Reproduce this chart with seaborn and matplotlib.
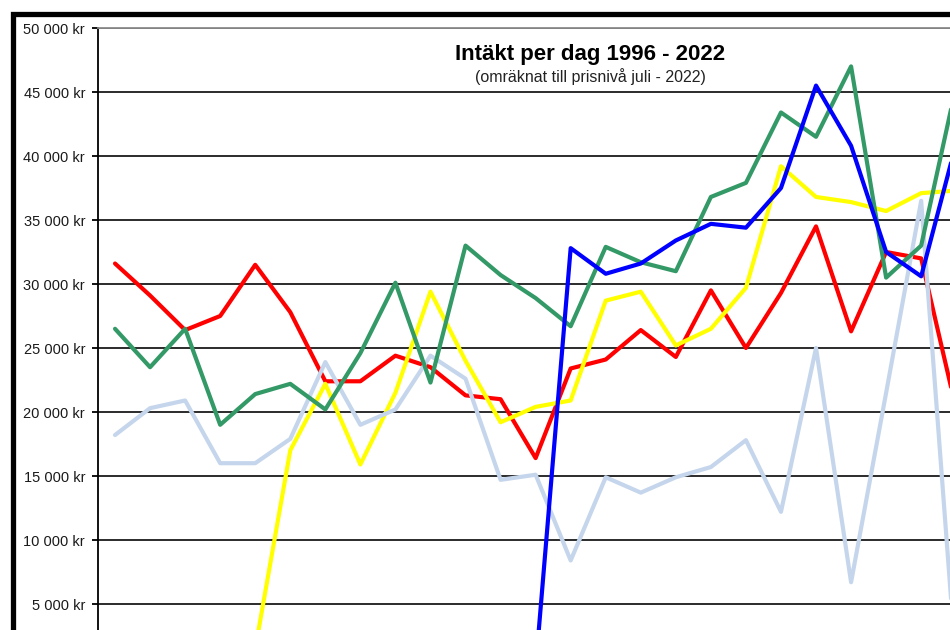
import numpy as np
import pandas as pd
import matplotlib
matplotlib.use("Agg")
import matplotlib.pyplot as plt
import matplotlib.ticker as mticker
from matplotlib.patches import Rectangle
import seaborn as sns

sns.set_style("white")
plt.rcParams['font.family'] = ['Liberation Sans', 'DejaVu Sans']

# %%
# values, 1996 - 2020 (rest of the chart is cut off)
years = list(range(1996, 2021))
red = [31600, 29100, 26400, 27500, 31500, 27800, 22400, 22400, 24400, 23500,
       21300, 21000, 16400, 23400, 24100, 26400, 24300, 29500, 25000, 29300,
       34500, 26300, 32500, 32000, 20200]
green = [26500, 23500, 26500, 19000, 21400, 22200, 20200, 24600, 30100, 22300,
         33000, 30700, 28900, 26700, 32900, 31700, 31000, 36800, 37900, 43400,
         41500, 47000, 30500, 33000, 45500]
yellow = [0, 0, 0, 0, 1500, 17000, 22200, 15900, 21500, 29400,
          24000, 19200, 20400, 20900, 28700, 29400, 25200, 26500, 29700, 39200,
          36800, 36400, 35700, 37100, 37300]
blue = [0, 0, 0, 0, 0, 0, 0, 0, 0, 0,
        0, 0, 0, 32800, 30800, 31600, 33400, 34700, 34400, 37500,
        45500, 40800, 32500, 30600, 41000]
lightblue = [18200, 20300, 20900, 16000, 16000, 17900, 23900, 19000, 20200, 24400,
             22600, 14700, 15100, 8400, 14900, 13700, 14900, 15700, 17800, 12200,
             25000, 6700, 21500, 36500, 0]

series = {"röd": red, "gul": yellow, "ljusblå": lightblue, "grön": green, "blå": blue}
palette = {"röd": "#ff0000", "gul": "#ffff00", "ljusblå": "#c5d6ec",
           "grön": "#339966", "blå": "#0000ff"}

df = pd.concat([pd.DataFrame({"year": years, "value": v, "serie": k}) for k, v in series.items()])

# %%
W, H = 950, 630
fig = plt.figure(figsize=(W / 100, H / 100), dpi=100)
# axes runs past the right and bottom edge, the picture is a crop
ax_left, ax_top, ax_bottom = 97.5, 28, 668
step = 35.05
ax = fig.add_axes([ax_left / W, 1 - ax_bottom / H, 27 * step / W, (ax_bottom - ax_top) / H])

sns.lineplot(data=df, x="year", y="value", hue="serie", hue_order=list(series.keys()),
             palette=palette, lw=3, legend=False, ax=ax, sort=False, zorder=3)

ax.set_xlim(1995.5, 2022.5)
ax.set_ylim(0, 50000)
ax.set_yticks(np.arange(5000, 50001, 5000))
ax.yaxis.set_major_formatter(mticker.FuncFormatter(lambda v, p: f"{int(v):,} kr".replace(",", " ")))
ax.set_xticks([])
ax.set_xlabel("")
ax.set_ylabel("")

ax.yaxis.grid(True, color="#1a1a1a", lw=1.3)
ax.set_axisbelow(True)
for s in ["right", "bottom"]:
    ax.spines[s].set_visible(False)
ax.spines["top"].set_color("#8c8c8c")
ax.spines["top"].set_linewidth(1.3)
ax.spines["left"].set_color("black")
ax.spines["left"].set_linewidth(1.3)
ax.tick_params(axis="y", left=True, length=4, width=1.3, color="black", pad=5,
               labelsize=10.5, labelcolor="#1a1a1a")

fig.text(590 / W, 1 - 60 / H, "Intäkt per dag 1996 - 2022", ha="center", va="baseline",
         fontsize=16, fontweight="bold", color="black")
fig.text(590 / W, 1 - 82 / H, "(omräknat till prisnivå juli - 2022)", ha="center", va="baseline",
         fontsize=11.5, color="#222222")

# thick page frame, top and left
fig.add_artist(Rectangle((13 / W, -0.2), 2, 1.2 - 14 / H, transform=fig.transFigure,
                         fill=False, edgecolor="black", lw=3.8))

fig.savefig("out.png", dpi=100)
